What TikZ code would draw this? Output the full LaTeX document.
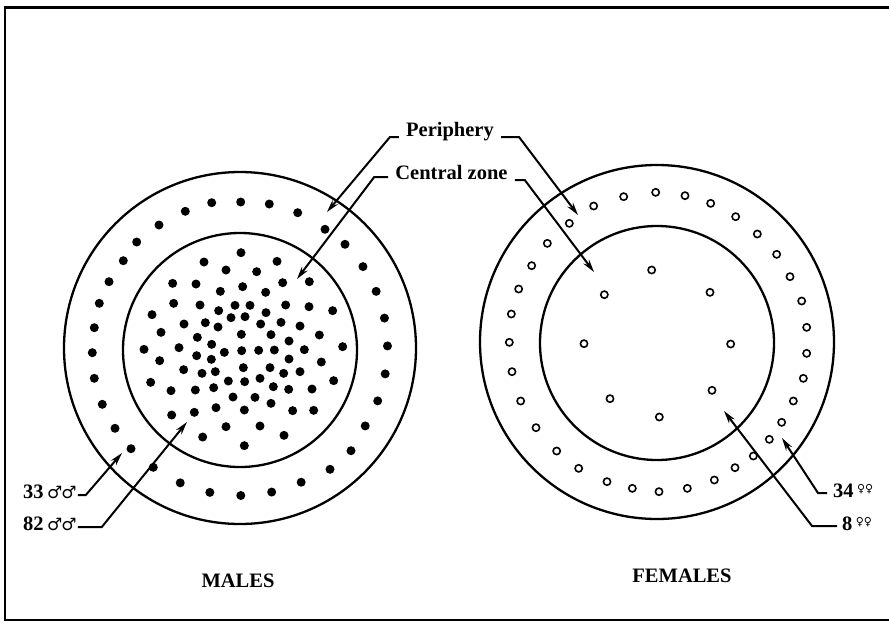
\documentclass[tikz,border=0pt]{standalone}
\usepackage{fontspec}
\setmainfont{Liberation Serif}
\newfontfamily\symfont{DejaVu Sans}
\usetikzlibrary{arrows.meta,calc}
\newcommand{\mmsym}{{\symfont\bfseries\fontsize{17}{17}\selectfont ♂\kern-1pt♂}}
\newcommand{\ffsym}{\raisebox{5pt}{\symfont\bfseries\fontsize{11}{11}\selectfont ♀♀}}
\begin{document}
\begin{tikzpicture}[x=1pt,y=-1pt,
  ring/.style={line width=2.3pt},
  lead/.style={line width=2pt,-{Stealth[length=13pt,width=7pt]}},
  lbl/.style={font=\bfseries\fontsize{20.5}{24}\selectfont,inner sep=0pt},
  odot/.style={draw=black,line width=1.6pt,fill=white}]
\useasboundingbox (0,0) rectangle (889,622);
% frame
\draw[line width=2.6pt] (889,7.5) -- (5,7.5) -- (5,620) -- (889,620);
% circles
\draw[ring] (240,348) circle (176);
\draw[ring] (240,350) circle (117);
\draw[ring] (657,342) circle (177);
\draw[ring] (657,343) circle (117);
% males: central zone (82)
\foreach \a/\b in {543/218, 432/246, 651/244, 498/270, 590/275,
  338/310, 408/312, 548/320, 668/308, 748/305, 481/334, 617/337,
  341/370, 420/375, 525/376, 570/376, 677/375, 747/380, 818/392,
  276/404, 476/392, 513/413, 555/410, 618/398,
  372/432, 436/428, 474/441, 602/432, 663/427, 720/438,
  303/457, 412/472, 544/463, 633/464, 778/465,
  455/493, 687/483, 848/500,
  252/508, 357/503, 410/527, 493/517, 545/512, 596/511, 643/510, 733/509,
  299/542, 454/538, 687/537, 784/546,
  371/569, 426/580, 466/575, 550/563, 630/563, 671/580, 720/575,
  272/607, 505/603, 554/605, 600/595, 821/602,
  333/632, 406/630, 461/623, 640/620, 686/628, 756/627,
  519/651, 585/652, 633/670,
  468/683, 553/690, 698/692, 761/691,
  335/705, 403/697, 498/740, 600/738, 428/771, 672/766, 553/797}
  \fill ({60+\a/3},{180+\b/3}) circle (4.5);
% males: periphery (33)
\foreach \a/\b in {211.7/202.7, 240.7/202, 269.3/204, 297.7/212.7, 325/229.3,
  345/244.3, 185.3/211.3, 159/225, 136.7/242, 123.3/260.7, 109/281.7,
  99.3/303.3, 94.3/327.7, 92.3/352.7, 94.3/378.3, 102.3/404.3, 115/428.3,
  131/448.7, 153.3/467.3, 351/450.7, 330/469.3}
  \fill (\a,\b) circle (4.5);
\foreach \t in {-31.9,-21,-10.1,0.8,11.7,22.6,33.5,246.1,258.2,270.3,282.4,294.5}
  \fill ({240+147.5*cos(\t)},{348-147.5*sin(\t)}) circle (4.5);
% females: periphery (34)
\foreach \a/\b in {527/67, 615/77, 692/100, 767/140, 832/192, 890/253,
  930/320, 965/393, 980/472, 980/550, 970/625, 940/693, 905/757, 868/808,
  820/858, 765/893, 703/930, 622/955, 537/965, 457/955, 381/935, 296/895,
  230/843, 168/773, 122/693, 96/605, 88/517, 94/432, 116/357, 155/287,
  202/220, 268/160, 341/108, 431/80}
  \draw[odot] ({480+\a/3},{170+\b/3}) circle (3.6);
% females: central zone (8)
\foreach \a/\b in {515/300, 690/367, 373/374, 312/521, 752/522, 390/686, 696/661, 538/741}
  \draw[odot] ({480+\a/3},{170+\b/3}) circle (3.6);
% labels
\node[lbl,anchor=base] (per) at (450,136) {Periphery};
\node[lbl,anchor=base] (cz) at (451.5,179) {Central zone};
\node[lbl,anchor=base west] (m33) at (23,498) {33\,\mmsym};
\node[lbl,anchor=base west] (m82) at (23,530) {82\,\mmsym};
\node[lbl,anchor=base west] (f34) at (833,497) {34\,\ffsym};
\node[lbl,anchor=base west] (f8) at (842,530) {8\,\ffsym};
\node[lbl,anchor=base] (males) at (238,587) {MALES};
\node[lbl,anchor=base] (females) at (682,582) {FEMALES};
% arrow tips
\coordinate (pL) at (327,212);
\coordinate (pR) at (578,215);
\coordinate (cL) at (297,279);
\coordinate (cR) at (594,272);
\coordinate (t33) at (122,453);
\coordinate (t82) at (187,422);
\coordinate (t34) at (782,438);
\coordinate (t8) at (724,411);
% leaders
\draw[lead] ([xshift=-7pt,yshift=-1pt]per.base west) -- ++(-9,0) -- (pL);
\draw[lead] ([xshift=7pt,yshift=-1pt]per.base east) -- ++(18,0) -- (pR);
\draw[lead] ([xshift=-7pt,yshift=2pt]cz.base west) -- ++(-14,0) -- (cL);
\draw[lead] ([xshift=7pt,yshift=-1pt]cz.base east) -- ++(10,0) -- (cR);
\draw[lead] ([xshift=1pt,yshift=3pt]m33.base east) -- ++(8,0) -- (t33);
\draw[lead] ([xshift=1pt,yshift=3pt]m82.base east) -- ++(24,0) -- (t82);
\draw[lead] ([xshift=-6pt,yshift=4pt]f34.base west) -- ++(-9,0) -- (t34);
\draw[lead] ([xshift=-5pt,yshift=4pt]f8.base west) -- ++(-25,0) -- (t8);
\end{tikzpicture}
\end{document}
